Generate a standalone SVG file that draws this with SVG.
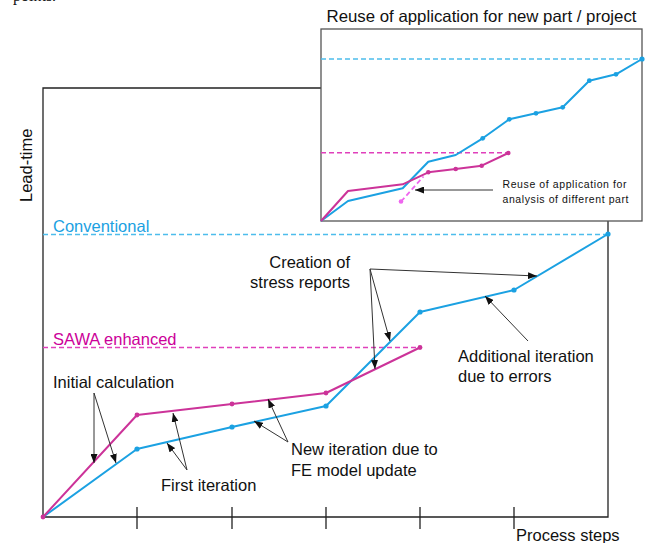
<svg xmlns="http://www.w3.org/2000/svg" width="648" height="543" viewBox="0 0 648 543">
  <defs>
    <marker id="arrow" viewBox="0 0 9 7" refX="9" refY="3.5" markerWidth="9" markerHeight="7" markerUnits="userSpaceOnUse" orient="auto">
      <path d="M0,0 L9,3.5 L0,7 z" fill="#111"/>
    </marker>
    <marker id="dotB" viewBox="-3 -3 6 6" markerWidth="6" markerHeight="6" markerUnits="userSpaceOnUse">
      <circle r="2.6" fill="#1ba1e2"/>
    </marker>
    <marker id="dotM" viewBox="-3 -3 6 6" markerWidth="6" markerHeight="6" markerUnits="userSpaceOnUse">
      <circle r="2.4" fill="#cc3399"/>
    </marker>
  </defs>
  <style>
    .frame { fill: none; stroke: #222; stroke-width: 1.3; }
    .lbl { font-family: "Liberation Sans", Arial, sans-serif; font-size: 16.5px; fill: #111; }
    .small { font-family: "Liberation Sans", Arial, sans-serif; font-size: 10.5px; fill: #111; }
    .conv { stroke: #1ba1e2; stroke-width: 2; fill: none; stroke-linejoin: round; }
    .sawa { stroke: #cc3399; stroke-width: 2; fill: none; stroke-linejoin: round; }
    .convDash { stroke: #4dbdec; stroke-width: 1.5; stroke-dasharray: 5 3; fill: none; }
    .sawaDash { stroke: #e040bb; stroke-width: 1.5; stroke-dasharray: 5 3; fill: none; }
    .ptr { stroke: #333; stroke-width: 1; fill: none; marker-end: url(#arrow); }
  </style>

  <rect width="648" height="543" fill="#fff"/>

  <!-- clipped text from the preceding page -->
  <text x="13" y="0.5" font-family="'Liberation Serif', 'Times New Roman', serif" font-size="16" fill="#111">points.</text>

  <!-- main chart frame and axes -->
  <g id="axes">
    <polyline class="frame" points="321,88 43,88 43,517 608,517 608,221"/>
    <path class="frame" d="M137,507 V529 M232,507 V529 M326,507 V529 M420,507 V529 M514,507 V529"/>
    <text class="lbl" transform="translate(32,202) rotate(-90)" font-size="18">Lead-time</text>
    <text class="lbl" x="516" y="541" font-size="18">Process steps</text>
  </g>

  <!-- target lead-time levels -->
  <g id="levels">
    <line class="convDash" x1="43" y1="234.5" x2="608" y2="234.5"/>
    <line class="sawaDash" x1="43" y1="347.5" x2="420" y2="347.5"/>
    <text x="53" y="231.5" font-family="'Liberation Sans', Arial, sans-serif" font-size="16.5" fill="#1ba1e2">Conventional</text>
    <text x="53" y="344.5" font-family="'Liberation Sans', Arial, sans-serif" font-size="16.5" fill="#cc0099">SAWA enhanced</text>
  </g>

  <!-- process curves -->
  <g id="curve-conventional">
    <polyline class="conv" points="43,517 137,449 232,427 326,406 420,312 514,290 608,234" marker-mid="url(#dotB)" marker-end="url(#dotB)"/>
  </g>
  <g id="curve-sawa">
    <polyline class="sawa" points="43,517 137,415 232,404 326,393 420,347.5" marker-start="url(#dotM)" marker-mid="url(#dotM)" marker-end="url(#dotM)"/>
  </g>

  <!-- annotations -->
  <g id="note-initial">
    <text class="lbl" x="53" y="388">Initial calculation</text>
  </g>
  <g id="note-first">
    <text class="lbl" x="161" y="491">First iteration</text>
  </g>
  <g id="note-fe">
    <text class="lbl" x="291" y="455">New iteration due to</text>
    <text class="lbl" x="291" y="475.5">FE model update</text>
  </g>
  <g id="note-reports">
    <text class="lbl" x="350" y="268" text-anchor="end">Creation of</text>
    <text class="lbl" x="350" y="288" text-anchor="end">stress reports</text>
  </g>
  <g id="note-errors">
    <text class="lbl" x="458" y="362">Additional iteration</text>
    <text class="lbl" x="458" y="382">due to errors</text>
  </g>

  <!-- inset: reuse for a new part -->
  <g id="inset">
    <rect x="321" y="29" width="321" height="192" fill="#fff" stroke="#555" stroke-width="1.3"/>
    <text class="lbl" x="481.5" y="22" text-anchor="middle" font-size="16" textLength="310" lengthAdjust="spacingAndGlyphs">Reuse of application for new part / project</text>
    <line class="convDash" x1="321" y1="59" x2="642" y2="59"/>
    <line class="sawaDash" x1="321" y1="152.7" x2="509" y2="152.7"/>
    <polyline class="conv" stroke-width="1.8" points="321,221 348,201 402.7,188.3 428.3,161.7 455.7,155 482.7,138.3 509.3,119.3 536,113.3 562.7,107.3 589.3,80.7 616,74.3 642,59"/>
    <g fill="#1ba1e2">
      <circle cx="482.7" cy="138.3" r="2.4"/>
      <circle cx="509.3" cy="119.3" r="2.4"/>
      <circle cx="536" cy="113.3" r="2.4"/>
      <circle cx="562.7" cy="107.3" r="2.4"/>
      <circle cx="589.3" cy="80.7" r="2.4"/>
      <circle cx="616" cy="74.3" r="2.4"/>
      <circle cx="642" cy="59" r="2.6"/>
    </g>
    <polyline class="sawa" stroke-width="1.8" points="321,221 348,191 402.7,184.3 428.3,172.3 455.7,169 481.7,165.7 508.3,153"/>
    <g fill="#cc3399">
      <circle cx="428.3" cy="172.3" r="2.3"/>
      <circle cx="455.7" cy="169" r="2.3"/>
      <circle cx="481.7" cy="165.7" r="2.3"/>
      <circle cx="508.3" cy="153" r="2.3"/>
    </g>
    <line x1="401" y1="201.5" x2="423.5" y2="176.5" stroke="#ee66ee" stroke-width="1.8" stroke-dasharray="5 3"/>
    <circle cx="401" cy="201.5" r="2.3" fill="#ee66ee"/>
    <text class="small" x="502.5" y="188.3" textLength="124" lengthAdjust="spacing">Reuse of application for</text>
    <text class="small" x="502.5" y="203.3" textLength="126" lengthAdjust="spacing">analysis of different part</text>
  </g>

  <g id="connectors">
    <line class="ptr" x1="94" y1="393" x2="94" y2="463"/>
    <line class="ptr" x1="94" y1="393" x2="116" y2="463"/>
    <line class="ptr" x1="187" y1="470" x2="167" y2="443"/>
    <line class="ptr" x1="187" y1="470" x2="173" y2="413"/>
    <line class="ptr" x1="288" y1="442" x2="268" y2="399"/>
    <line class="ptr" x1="288" y1="442" x2="254" y2="421"/>
    <line class="ptr" x1="370" y1="269" x2="537" y2="276"/>
    <line class="ptr" x1="370" y1="269" x2="390" y2="341"/>
    <line class="ptr" x1="370" y1="269" x2="375" y2="369"/>
    <line class="ptr" x1="528" y1="341" x2="485" y2="296"/>
    <line class="ptr" x1="493" y1="190" x2="415" y2="190"/>
  </g>
</svg>
